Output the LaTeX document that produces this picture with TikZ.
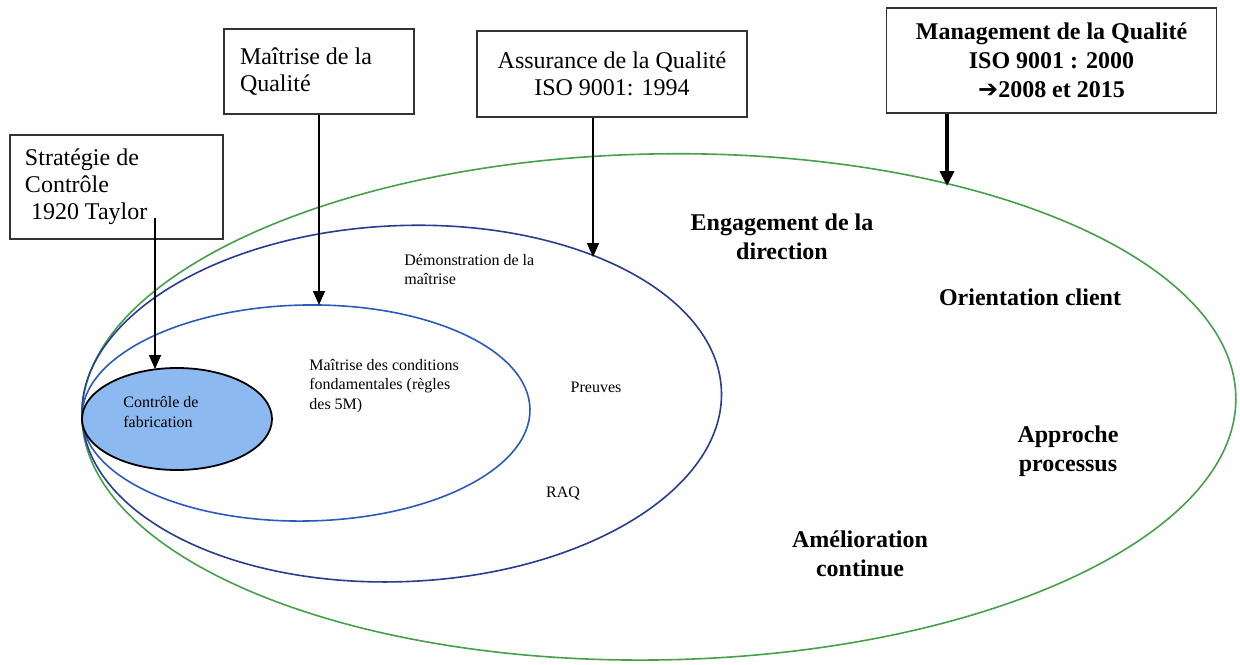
\documentclass[tikz,border=0pt]{standalone}
\usepackage{fontspec}
\setmainfont{Liberation Serif}
\newfontfamily\flechefont{DejaVu Sans}
\usetikzlibrary{arrows.meta}

\definecolor{vertq}{RGB}{70,160,75}
\definecolor{bleufonce}{RGB}{40,60,145}
\definecolor{bleumoyen}{RGB}{45,90,185}
\definecolor{bleuclair}{RGB}{140,185,240}

\begin{document}
\begin{tikzpicture}[x = 0.5pt, y = -0.5pt,
        boite/.style = {draw = black!80, line width = 0.9pt, inner xsep = 7.5pt, inner ysep = 0pt},
        texteboite/.style = {font = \fontsize{12}{13.5}\selectfont},
        fleche/.style = {-{Triangle[length = 7pt, width = 6pt]}, line width = 0.8pt},
        petit/.style = {font = \fontsize{8}{9.75}\selectfont, align = flush left, inner sep = 0pt},
        gras/.style = {font = \fontsize{12}{14.5}\selectfont\bfseries, align = flush center, inner sep = 0pt}]
        \useasboundingbox (0,0) rectangle (1240,664);

        \draw [vertq, line width = 0.8pt] (658.9,406.9) ellipse [x radius = 288.5pt, y radius = 126.5pt, rotate = 1];
        \draw [bleufonce, line width = 0.8pt] (401.7,403.6) ellipse [x radius = 160pt, y radius = 89pt, rotate = 2.4];
        \draw [bleumoyen, line width = 0.8pt] (306,413) ellipse [x radius = 112pt, y radius = 54pt, rotate = 1];
        \draw [fill = bleuclair, line width = 0.9pt] (177,419) ellipse [x radius = 47.5pt, y radius = 25.5pt];

        \node [boite, texteboite, minimum width = 106.5pt, minimum height = 52pt, text width = 91.5pt, align = flush left] (strategie) at (116.5,187) {Stratégie de\\Contrôle\\\hspace{3pt}1920 Taylor};
        \node [boite, texteboite, minimum width = 95pt, minimum height = 42.5pt, text width = 79pt, align = flush left] (maitrise) at (319,71.5) {Maîtrise de la\\Qualité};
        \node [boite, texteboite, minimum width = 135pt, minimum height = 43pt, text width = 120pt, align = flush center] (assurance) at (612,74) {Assurance de la Qualité\\ISO 9001: 1994};
        \node [boite, font = \fontsize{12}{14.5}\selectfont\bfseries, minimum width = 163.5pt, minimum height = 52.5pt, text width = 150pt, align = flush center] (management) at (1051.5,60.5) {Management de la Qualité\\ISO 9001 : 2000\\{\flechefont ➔}2008 et 2015};

        \node [petit, font = \fontsize{8}{10}\selectfont, anchor = west] (fabrication) at (123,412) {Contrôle de\\fabrication};
        \node [petit, anchor = west] (conditions) at (309,386) {Maîtrise des conditions\\fondamentales (règles\\des 5M)};
        \node [petit, anchor = west] (demonstration) at (404,269.5) {Démonstration de la\\maîtrise};
        \node [petit] (preuves) at (596,387) {Preuves};
        \node [petit] (raq) at (563,493) {RAQ};

        \node [gras] (engagement) at (782,236.5) {Engagement de la\\direction};
        \node [gras] (orientation) at (1030,297) {Orientation client};
        \node [gras] (approche) at (1068,451) {Approche\\processus};
        \node [gras] (amelioration) at (860,554) {Amélioration\\continue};

        \coordinate (taylor) at (155,218);
        \coordinate (pfab) at (155,369);
        \coordinate (pcond) at (319,305);
        \coordinate (pdemo) at (593,257);
        \coordinate (pvert) at (947,186);
        \draw [fleche] (taylor) -- (pfab);
        \draw [fleche] (maitrise.south -| pcond) -- (pcond);
        \draw [fleche] (assurance.south -| pdemo) -- (pdemo);
        \draw [-{Triangle[length = 7.5pt, width = 7pt]}, line width = 2pt] (management.south -| pvert) -- (pvert);
\end{tikzpicture}
\end{document}
